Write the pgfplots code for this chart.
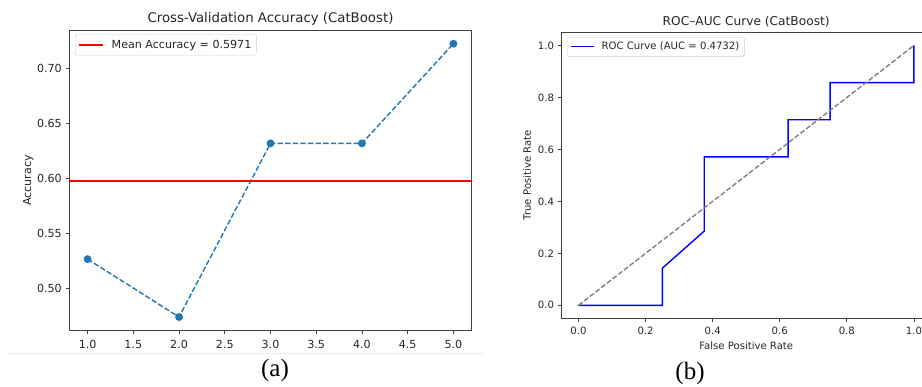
\documentclass[border=0pt]{standalone}
\usepackage{fontspec}
\setmainfont{DejaVu Sans}
\newfontfamily\timesfont{Liberation Serif}
\usepackage{pgfplots}
\pgfplotsset{compat=1.18}
\definecolor{tabblue}{HTML}{1F77B4}
\pgfplotsset{
  mplbase/.style={anchor=south west, scale only axis,
    /pgf/number format/assume math mode=true,
    tick align=outside, tick pos=left,
    tick style={black!75, line width=0.8pt},
    axis line style={black!75, line width=0.8pt}},
}
\begin{document}
\begin{tikzpicture}
\path[use as bounding box] (0pt,0pt) rectangle (922pt,387pt);
\begin{axis}[mplbase,
  at={(69.3pt,56.3pt)},
  width=402.4pt, height=300.7pt,
  xmin=0.8, xmax=5.2, ymin=0.46125, ymax=0.73466,
  xtick={1,1.5,2,2.5,3,3.5,4,4.5,5},
  xticklabels={1.0,1.5,2.0,2.5,3.0,3.5,4.0,4.5,5.0},
  ytick={0.50,0.55,0.60,0.65,0.70},
  yticklabels={0.50,0.55,0.60,0.65,0.70},
  major tick length=3.5pt,
  tick label style={font=\fontsize{11.1}{13}\selectfont, text=black!85, inner sep=0pt},
  xticklabel style={anchor=base, yshift=-14.1pt},
  yticklabel style={anchor=east, xshift=-3.8pt},
  ylabel={Accuracy},
  ylabel style={font=\fontsize{11.1}{13}\selectfont, text=black!85},
  title={Cross-Validation Accuracy (CatBoost)},
  title style={at={(axis description cs:0.5,1)}, anchor=base, yshift=1.3pt, font=\fontsize{13.3}{15}\selectfont, text=black!85},
  legend style={at={(axis description cs:0,1)}, anchor=north west, xshift=5.7pt, yshift=-4.3pt,
    draw=black!20, fill=white, rounded corners=2pt, inner xsep=1pt, inner ysep=2.5pt,
    font=\fontsize{11.1}{13}\selectfont, text=black!85, column sep=0pt,
    nodes={inner xsep=4pt, inner ysep=3pt}},
  legend image code/.code={\path (-2.3pt,0pt) (27.6pt,0pt); \draw[#1] (0pt,0pt) -- (23.4pt,0pt);},
]
\addplot[color=tabblue, dash pattern=on 5.3pt off 2.3pt, line width=1.4pt, mark=*, mark size=3.2pt,
  mark options={solid}, forget plot]
  coordinates {(1,0.5263) (2,0.4737) (3,0.6316) (4,0.6316) (5,0.7222)};
\addplot[color=red, line width=1.6pt] table {
x y
0.8 0.5971
5.2 0.5971
};
\addlegendentry{Mean Accuracy = 0.5971}
\end{axis}

\begin{axis}[mplbase,
  at={(561.7pt,68.7pt)},
  width=369pt, height=285.8pt,
  xmin=-0.05, xmax=1.05, ymin=-0.05, ymax=1.05,
  xtick={0,0.2,0.4,0.6,0.8,1.0},
  xticklabels={0.0,0.2,0.4,0.6,0.8,1.0},
  ytick={0,0.2,0.4,0.6,0.8,1.0},
  yticklabels={0.0,0.2,0.4,0.6,0.8,1.0},
  major tick length=3.3pt,
  tick label style={font=\fontsize{10.1}{12}\selectfont, text=black!85, inner sep=0pt},
  xticklabel style={anchor=base, yshift=-13.4pt},
  yticklabel style={anchor=east, xshift=-4.2pt},
  xlabel={False Positive Rate},
  xlabel style={at={(axis description cs:0.5,0)}, anchor=base, yshift=-31.7pt, font=\fontsize{10.1}{12}\selectfont, text=black!85},
  ylabel={True Positive Rate},
  ylabel style={at={(axis description cs:-0.0935,0.5)}, anchor=center, font=\fontsize{10.1}{12}\selectfont, text=black!85},
  title={ROC–AUC Curve (CatBoost)},
  title style={at={(axis description cs:0.5,1)}, anchor=base, yshift=0.6pt, font=\fontsize{12.2}{14}\selectfont, text=black!85},
  legend style={at={(axis description cs:0,1)}, anchor=north west, xshift=5.3pt, yshift=-4.5pt,
    draw=black!20, fill=white, rounded corners=2pt, inner xsep=1pt, inner ysep=2.3pt,
    font=\fontsize{10.1}{12}\selectfont, text=black!85, column sep=0pt,
    nodes={inner xsep=4pt, inner ysep=2.7pt}},
  legend image code/.code={\path (-2pt,0pt) (26pt,0pt); \draw[#1] (0pt,0pt) -- (22.7pt,0pt);},
]
\addplot[blue, line width=1.4pt] coordinates {(0,0) (0.25,0) (0.25,0.142857) (0.375,0.285714) (0.375,0.571429) (0.625,0.571429) (0.625,0.714286) (0.75,0.714286) (0.75,0.857143) (1,0.857143) (1,1)};
\addlegendentry{ROC Curve (AUC = 0.4732)}
\addplot[gray, dash pattern=on 5pt off 2.2pt, line width=1.4pt, forget plot] coordinates {(0,0) (1,1)};
\end{axis}

\draw[black!8, line width=1pt] (8pt,33.7pt) -- (483pt,33.7pt);
\node[font=\timesfont\fontsize{25}{30}\selectfont, anchor=base] at (275pt,10pt) {(a)};
\node[font=\timesfont\fontsize{25}{30}\selectfont, anchor=base] at (690pt,7pt) {(b)};
\end{tikzpicture}
\end{document}
